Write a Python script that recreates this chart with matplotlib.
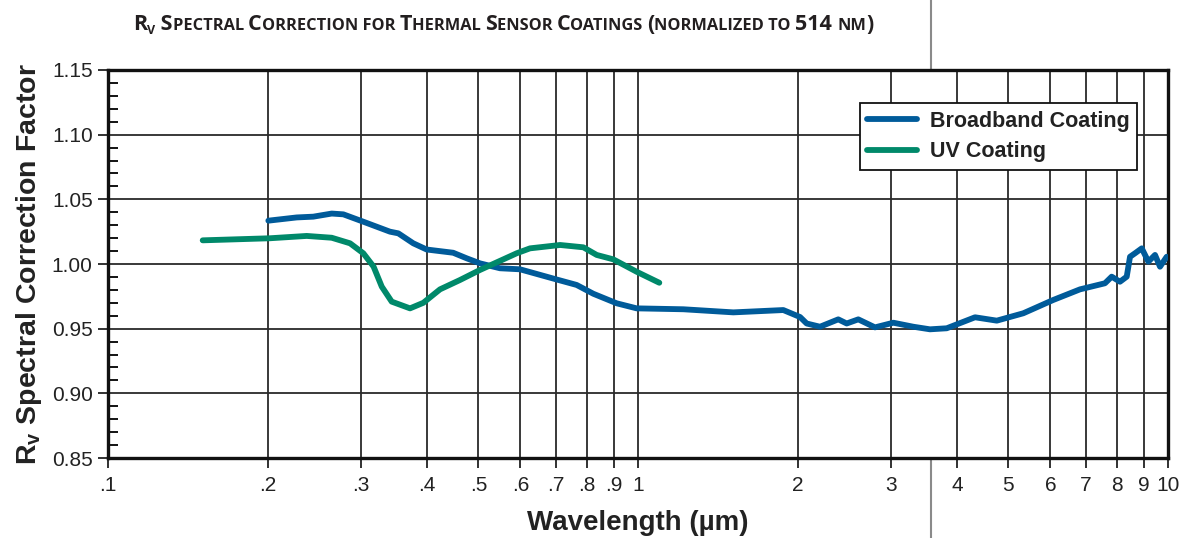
import matplotlib
matplotlib.use("Agg")
import matplotlib.pyplot as plt
from matplotlib.lines import Line2D
from matplotlib.ticker import FixedLocator, NullLocator, MultipleLocator

plt.rcParams['font.family'] = ['Liberation Sans', 'DejaVu Sans']
plt.rcParams['mathtext.fontset'] = 'custom'
plt.rcParams['mathtext.rm'] = 'Liberation Sans'
plt.rcParams['mathtext.bf'] = 'Liberation Sans:bold'

# broadband coating (wavelength in um, correction factor)
bb_wl = [0.2007, 0.2270, 0.2440, 0.2643, 0.278, 0.3032, 0.3404, 0.353, 0.3767,
         0.3993, 0.448, 0.4751, 0.5034, 0.549, 0.599, 0.7026, 0.766, 0.8235,
         0.9117, 0.9943, 1.2176, 1.513, 1.880, 2.022, 2.081, 2.205, 2.387, 2.476,
         2.604, 2.800, 3.032, 3.307, 3.555, 3.824, 4.324, 4.753, 5.333, 6.075,
         6.823, 7.604, 7.830, 8.117, 8.358, 8.479, 8.665, 8.923, 9.182, 9.452,
         9.659, 9.943]
bb_rv = [1.0335, 1.036, 1.0366, 1.039, 1.0384, 1.0327, 1.025, 1.0237, 1.016,
         1.0112, 1.0087, 1.0044, 1.0005, 0.9967, 0.9959, 0.988, 0.9838, 0.977,
         0.9696, 0.9657, 0.965, 0.9626, 0.9644, 0.959, 0.954, 0.9515, 0.9572,
         0.954, 0.9572, 0.951, 0.9546, 0.9515, 0.9495, 0.9503, 0.9588, 0.9562,
         0.9619, 0.9722, 0.9804, 0.9851, 0.9902, 0.9863, 0.9902, 1.0056, 1.0083,
         1.0121, 1.0018, 1.007, 0.9979, 1.0056]

# UV coating
uv_wl = [0.1509, 0.2021, 0.2371, 0.2643, 0.2862, 0.3032, 0.3170, 0.3285, 0.343,
         0.3714, 0.3935, 0.4231, 0.4613, 0.5034, 0.5904, 0.6255, 0.7129, 0.7887,
         0.8358, 0.8982, 0.9943, 1.097]
uv_rv = [1.0183, 1.0199, 1.0217, 1.0203, 1.016, 1.0083, 0.998, 0.9825, 0.9709,
         0.9657, 0.970, 0.9804, 0.9876, 0.9954, 1.0083, 1.0121, 1.0147, 1.0129,
         1.007, 1.0036, 0.994, 0.9855]

xticks = [0.1, 0.2, 0.3, 0.4, 0.5, 0.6, 0.7, 0.8, 0.9, 1, 2, 3, 4, 5, 6, 7, 8, 9, 10]
xlabels = ['.1', '.2', '.3', '.4', '.5', '.6', '.7', '.8', '.9', '1',
           '2', '3', '4', '5', '6', '7', '8', '9', '10']

blue = '#005b9a'
green = '#00896a'

fig = plt.figure(figsize=(11.84, 5.38), dpi=100)
ax = fig.add_axes([108 / 1184, 80 / 538, 1060 / 1184, 388 / 538])
ax.set_facecolor('white')

# page divider line behind the axes
fig.add_artist(Line2D([931 / 1184, 931 / 1184], [0, 1], transform=fig.transFigure,
                      color='#8a8a8a', lw=1.5, zorder=-1))

ax.plot(bb_wl, bb_rv, color=blue, lw=4.2, solid_capstyle='round', solid_joinstyle='round',
        label='Broadband Coating', zorder=3)
ax.plot(uv_wl, uv_rv, color=green, lw=4.2, solid_capstyle='round', solid_joinstyle='round',
        label='UV Coating', zorder=3)

ax.set_xscale('log')
ax.set_xlim(0.1, 10)
ax.set_ylim(0.85, 1.15)
ax.xaxis.set_major_locator(FixedLocator(xticks))
ax.xaxis.set_minor_locator(NullLocator())
ax.set_xticklabels(xlabels)
ax.yaxis.set_major_locator(MultipleLocator(0.05))
ax.yaxis.set_minor_locator(MultipleLocator(0.01))
ax.yaxis.set_major_formatter(plt.FormatStrFormatter('%.2f'))

ax.grid(True, which='major', color='#2a2a2a', lw=1.3, zorder=1)
ax.set_axisbelow(True)
ax.tick_params(axis='x', which='major', direction='out', length=7, width=1.3,
               labelsize=15, pad=6, colors='#222222')
ax.tick_params(axis='y', which='major', direction='out', length=7, width=1.3,
               labelsize=15, pad=4, colors='#222222')
ax.tick_params(axis='y', which='minor', direction='in', length=7, width=1.3)
for s in ax.spines.values():
    s.set_linewidth(2.4)
    s.set_color('#111111')

ax.set_ylabel(r'R$_\mathbf{v}$ Spectral Correction Factor', fontsize=20.5,
              fontweight='bold', color='#222222', labelpad=6)
ax.set_xlabel('Wavelength (µm)', fontsize=20, fontweight='bold', color='#222222', labelpad=11)

leg = ax.legend(loc='upper right', bbox_to_anchor=(0.9708, 0.915), borderaxespad=0,
                fancybox=False, framealpha=1, edgecolor='#111111',
                prop={'weight': 'bold', 'size': 15.5}, handlelength=2.3,
                labelspacing=0.45, borderpad=0.35, handletextpad=0.6)
leg.get_frame().set_linewidth(1.3)
for t in leg.get_texts():
    t.set_color('#222222')

# small-caps title, built from pieces
big, small = 15.5, 11.8
chunks = [('R', big, 0), ('V', 9, -4), (' S', big, 0), ('PECTRAL ', small, 0),
          ('C', big, 0), ('ORRECTION FOR ', small, 0), ('T', big, 0), ('HERMAL ', small, 0),
          ('S', big, 0), ('ENSOR ', small, 0), ('C', big, 0), ('OATINGS ', small, 0),
          ('(', big, 0), ('NORMALIZED TO ', small, 0), ('514 ', big, 0), ('NM', small, 0),
          (')', big, 0)]
fig.canvas.draw()
renderer = fig.canvas.get_renderer()
x = 133
y = 538 - 30
for txt, size, dy in chunks:
    t = fig.text(x / 1184, (y + dy) / 538, txt, fontsize=size, family='Open Sans',
                 fontweight='bold', color='#231f20', va='baseline', ha='left')
    x += t.get_window_extent(renderer).width

fig.savefig('out.png', dpi=100)
